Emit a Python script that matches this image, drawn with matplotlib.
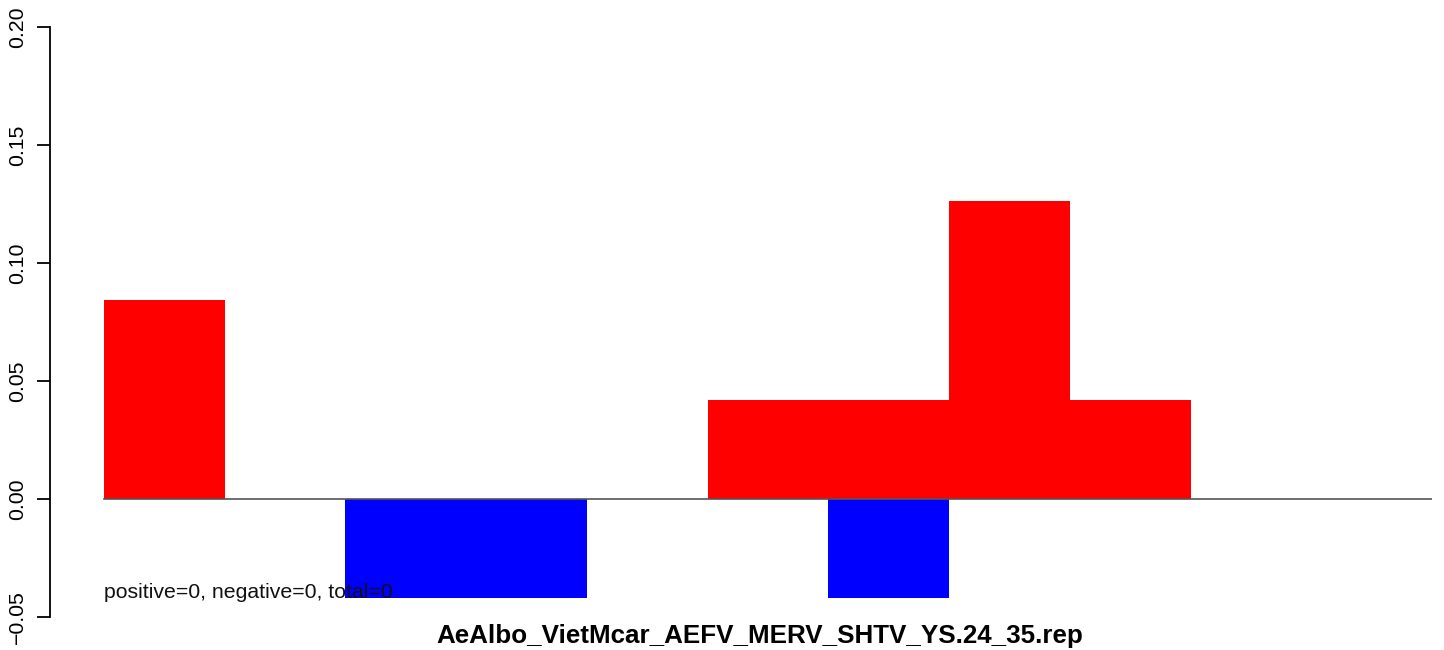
import numpy as np
import matplotlib.pyplot as plt

plt.rcParams['font.family'] = ['Liberation Sans', 'DejaVu Sans']

# bar heights per window (positive in red, negative in blue)
positive = [0.0843, 0, 0, 0, 0, 0.042, 0.042, 0.1263, 0.042, 0, 0]
negative = [0, 0, -0.042, -0.042, 0, 0, -0.042, 0, 0, 0, 0]
yticks = [-0.05, 0.00, 0.05, 0.10, 0.15, 0.20]
ytick_labels = ["\u22120.05", "0.00", "0.05", "0.10", "0.15", "0.20"]
title = "AeAlbo_VietMcar_AEFV_MERV_SHTV_YS.24_35.rep"
note = "positive=0, negative=0, total=0"

W, H = 1444, 650
fig = plt.figure(figsize=(W / 100, H / 100), dpi=100)

# axes placed in pixel coordinates: y axis at x=50, 0.20 at y=27, -0.05 at y=617
ax_left, ax_right = 50, 1432
ax_top, ax_bottom = 27, 617
ax = fig.add_axes([ax_left / W, 1 - ax_bottom / H,
                   (ax_right - ax_left) / W, (ax_bottom - ax_top) / H])

n = len(positive)
x = np.arange(n)
ax.bar(x, positive, width=1.0, align='edge', color='#ff0000', linewidth=0)
ax.bar(x, negative, width=1.0, align='edge', color='#0000ff', linewidth=0)
ax.plot([0, n], [0, 0], color='#555555', linewidth=1.2)

ax.text(0, -0.042, note, fontsize=15.3, ha='left', va='baseline', color='#111111')

# x range so that bars run from px 104 to 1432
unit = (ax_right - 104) / n
ax.set_xlim(-(104 - ax_left) / unit, n)
ax.set_ylim(-0.05, 0.20)

for s in ['top', 'right', 'bottom']:
    ax.spines[s].set_visible(False)
ax.spines['left'].set_linewidth(1.3)
ax.set_xticks([])
ax.set_yticks(yticks)
ax.set_yticklabels(ytick_labels, rotation=90, va='center', fontsize=15.3)
ax.tick_params(axis='y', length=9.4, width=1.3, pad=7)

fig.text(760 / W, 1 - 643 / H, title, ha='center', va='baseline',
         fontsize=18.7, fontweight='bold')

fig.savefig('out.png', dpi=100)
